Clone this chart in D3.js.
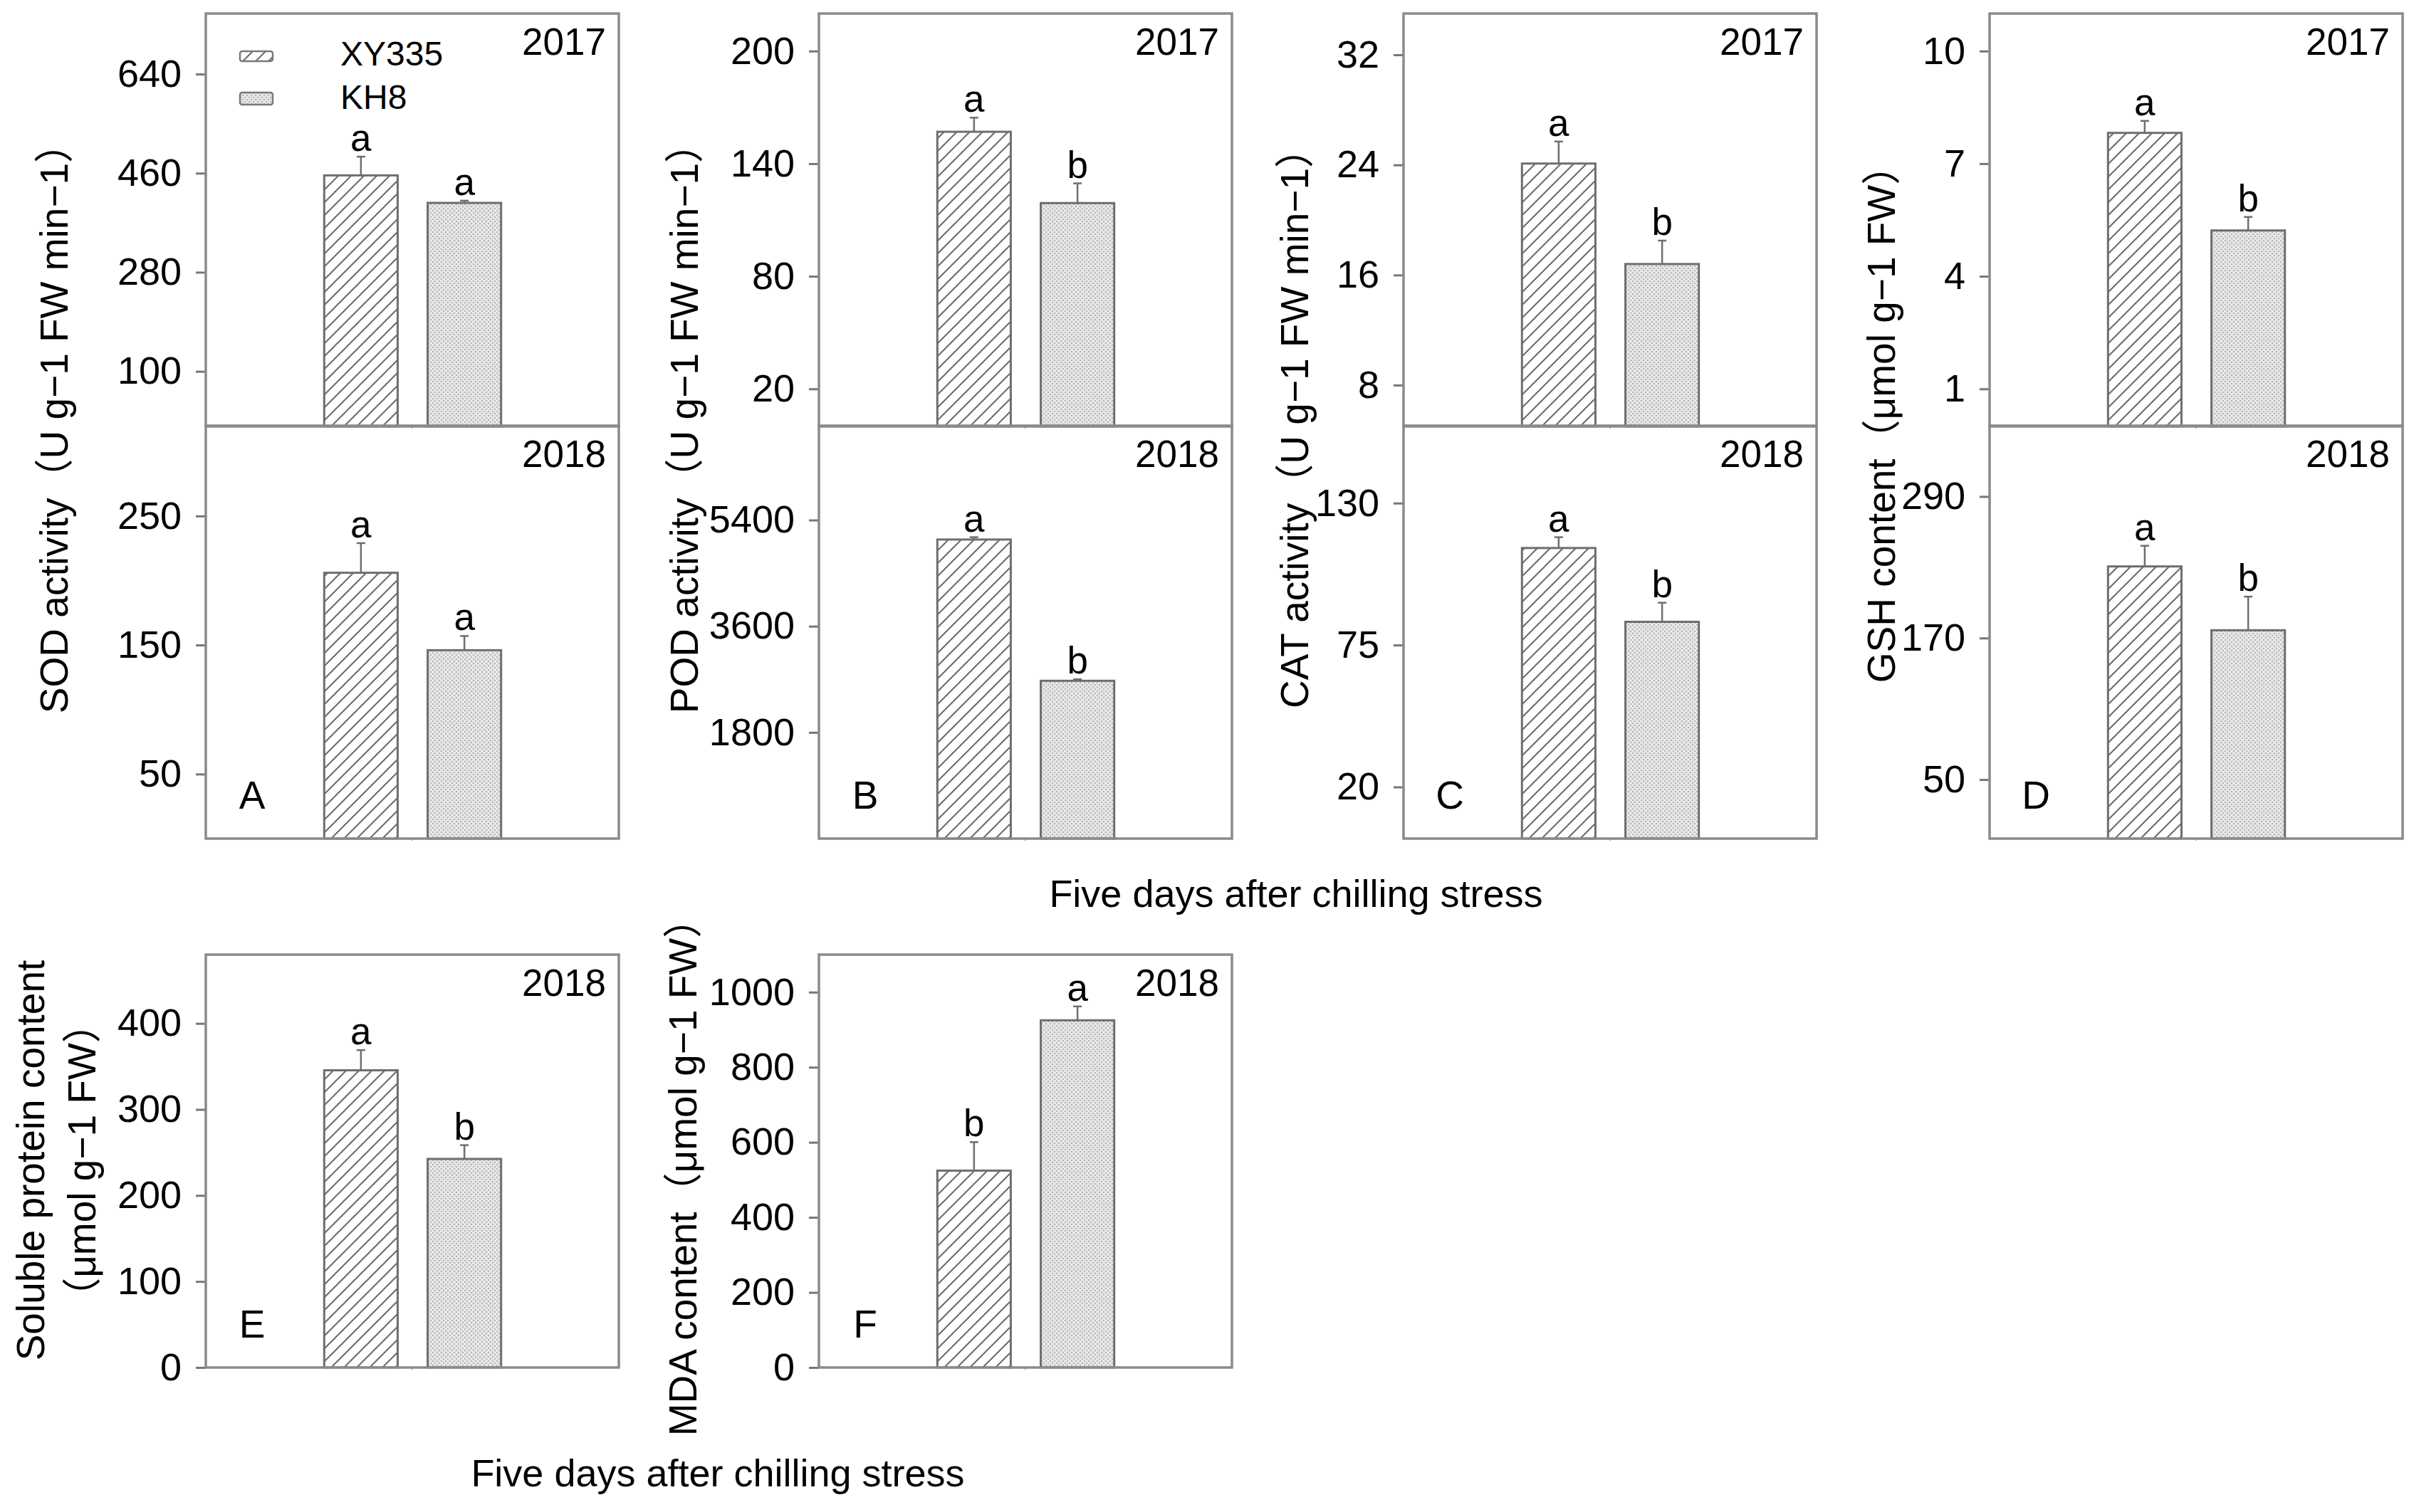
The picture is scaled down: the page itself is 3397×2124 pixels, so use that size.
<!DOCTYPE html>
<html>
<head>
<meta charset="utf-8">
<script src="https://cdn.jsdelivr.net/npm/d3@7"></script>
<style>
  body { margin: 0; background: #fff; }
  text { font-family: "Liberation Sans", Arial, "Noto Sans CJK SC", sans-serif; fill: #000; }
</style>
</head>
<body>
<div id="chart"></div>
<script>
const width = 3397;
const height = 2124;

const cultivars = ["XY335", "KH8"];

// values (mean, error)
const sod2017 = [456, 406], sod2017Err = [34, 4], sod2017Sig = ["a", "a"];
const sod2018 = [206, 146], sod2018Err = [23, 11], sod2018Sig = ["a", "a"];
const pod2017 = [157, 119], pod2017Err = [7.5, 10.5], pod2017Sig = ["a", "b"];
const pod2018 = [5070, 2675], pod2018Err = [40, 25], pod2018Sig = ["a", "b"];
const cat2017 = [24.1, 16.8], cat2017Err = [1.6, 1.7], cat2017Sig = ["a", "b"];
const cat2018 = [112.6, 84], cat2018Err = [4.2, 7.4], cat2018Sig = ["a", "b"];
const gsh2017 = [7.82, 5.22], gsh2017Err = [0.32, 0.36], gsh2017Sig = ["a", "b"];
const gsh2018 = [230.7, 176.6], gsh2018Err = [17.5, 28.5], gsh2018Sig = ["a", "b"];
const protein2018 = [345.5, 242.5], protein2018Err = [23.5, 16], protein2018Sig = ["a", "b"];
const mda2018 = [524.5, 925], mda2018Err = [76, 37], mda2018Sig = ["b", "a"];

// axis ranges and tick labels
const sodTicks2017 = [100, 280, 460, 640], sodDomain2017 = [0, 750];
const sodTicks2018 = [50, 150, 250], sodDomain2018 = [0, 320];
const podTicks2017 = [20, 80, 140, 200], podDomain2017 = [0, 220];
const podTicks2018 = [1800, 3600, 5400], podDomain2018 = [0, 7000];
const catTicks2017 = [8, 16, 24, 32], catDomain2017 = [5, 35];
const catTicks2018 = [20, 75, 130], catDomain2018 = [0, 160];
const gshTicks2017 = [1, 4, 7, 10], gshDomain2017 = [0, 11];
const gshTicks2018 = [50, 170, 290], gshDomain2018 = [0, 350];
const proteinTicks = [0, 100, 200, 300, 400], proteinDomain = [0, 480];
const mdaTicks = [0, 200, 400, 600, 800, 1000], mdaDomain = [0, 1100];

const titles = [
  "SOD activity（U g−1 FW min−1）",
  "POD activity（U g−1 FW min−1）",
  "CAT activity（U g−1 FW min−1）",
  "GSH content（μmol g−1 FW）"
];
const proteinTitle = ["Soluble protein content", "（μmol g−1 FW）"];
const mdaTitle = "MDA content（μmol g−1 FW）";
const xTitle = "Five days after chilling stress";

const panels = [
  { col: 0, row: 0, year: "2017", v: sod2017, e: sod2017Err, sig: sod2017Sig, domain: sodDomain2017, ticks: sodTicks2017, legend: true },
  { col: 0, row: 1, year: "2018", v: sod2018, e: sod2018Err, sig: sod2018Sig, domain: sodDomain2018, ticks: sodTicks2018, tag: "A" },
  { col: 1, row: 0, year: "2017", v: pod2017, e: pod2017Err, sig: pod2017Sig, domain: podDomain2017, ticks: podTicks2017 },
  { col: 1, row: 1, year: "2018", v: pod2018, e: pod2018Err, sig: pod2018Sig, domain: podDomain2018, ticks: podTicks2018, tag: "B" },
  { col: 2, row: 0, year: "2017", v: cat2017, e: cat2017Err, sig: cat2017Sig, domain: catDomain2017, ticks: catTicks2017 },
  { col: 2, row: 1, year: "2018", v: cat2018, e: cat2018Err, sig: cat2018Sig, domain: catDomain2018, ticks: catTicks2018, tag: "C" },
  { col: 3, row: 0, year: "2017", v: gsh2017, e: gsh2017Err, sig: gsh2017Sig, domain: gshDomain2017, ticks: gshTicks2017 },
  { col: 3, row: 1, year: "2018", v: gsh2018, e: gsh2018Err, sig: gsh2018Sig, domain: gshDomain2018, ticks: gshTicks2018, tag: "D" },
  { col: 0, row: 2, year: "2018", v: protein2018, e: protein2018Err, sig: protein2018Sig, domain: proteinDomain, ticks: proteinTicks, tag: "E" },
  { col: 1, row: 2, year: "2018", v: mda2018, e: mda2018Err, sig: mda2018Sig, domain: mdaDomain, ticks: mdaTicks, tag: "F" }
];

// layout
const colLeft = [289, 1150, 1971, 2794];
const pw = 580;
const rowTop = [19, 598, 1341];
const ph = 580;
const frameColor = "#8a8a8a";

const svg = d3.select("#chart")
  .append("svg")
    .attr("width", width)
    .attr("height", height)
    .style("display", "block");

// fill patterns
const defs = svg.append("defs");
const hatch = defs.append("pattern")
    .attr("id", "hatch")
    .attr("patternUnits", "userSpaceOnUse")
    .attr("width", 18)
    .attr("height", 18);
hatch.append("rect").attr("width", 18).attr("height", 18).attr("fill", "#fff");
hatch.append("path")
    .attr("d", "M0,18 L18,0 M-4.5,4.5 L4.5,-4.5 M13.5,22.5 L22.5,13.5")
    .attr("stroke", "#6a6a6a")
    .attr("stroke-width", 2);

const dots = defs.append("pattern")
    .attr("id", "dots")
    .attr("patternUnits", "userSpaceOnUse")
    .attr("width", 6)
    .attr("height", 6);
dots.append("rect").attr("width", 6).attr("height", 6).attr("fill", "#e6e6e6");
dots.append("rect").attr("width", 2).attr("height", 2).attr("fill", "#b4b4b4");
dots.append("rect").attr("x", 3).attr("y", 3).attr("width", 2).attr("height", 2).attr("fill", "#b4b4b4");

const fills = { XY335: "url(#hatch)", KH8: "url(#dots)" };

const x = d3.scaleBand()
    .domain(cultivars)
    .range([0.2867 * pw, 0.715 * pw])
    .paddingInner(0.29);

for (const p of panels) {
  const g = svg.append("g")
      .attr("transform", `translate(${colLeft[p.col]},${rowTop[p.row]})`);

  const y = d3.scaleLinear().domain(p.domain).range([ph, 0]);
  const rows = cultivars.map((c, i) => ({ c, v: p.v[i], e: p.e[i], sig: p.sig[i] }));

  g.selectAll("rect.bar")
    .data(rows)
    .join("rect")
      .attr("class", "bar")
      .attr("x", d => x(d.c))
      .attr("y", d => y(d.v))
      .attr("width", x.bandwidth())
      .attr("height", d => ph - y(d.v))
      .attr("fill", d => fills[d.c])
      .attr("stroke", "#6e6e6e")
      .attr("stroke-width", 3);

  // error bars (upper half only)
  const cx = d => x(d.c) + x.bandwidth() / 2;
  g.selectAll("line.err")
    .data(rows)
    .join("line")
      .attr("class", "err")
      .attr("x1", cx).attr("x2", cx)
      .attr("y1", d => y(d.v)).attr("y2", d => y(d.v + d.e))
      .attr("stroke", "#6e6e6e")
      .attr("stroke-width", 2.5);
  g.selectAll("line.cap")
    .data(rows)
    .join("line")
      .attr("class", "cap")
      .attr("x1", d => cx(d) - 6).attr("x2", d => cx(d) + 6)
      .attr("y1", d => y(d.v + d.e)).attr("y2", d => y(d.v + d.e))
      .attr("stroke", "#6e6e6e")
      .attr("stroke-width", 2.5);

  g.selectAll("text.sig")
    .data(rows)
    .join("text")
      .attr("class", "sig")
      .attr("x", cx)
      .attr("y", d => y(d.v + d.e) - 8)
      .attr("text-anchor", "middle")
      .style("font-size", "53px")
      .text(d => d.sig);

  const axis = g.append("g")
      .call(d3.axisLeft(y).tickValues(p.ticks).tickSize(14).tickPadding(20).tickFormat(d3.format("d")));
  axis.select(".domain").remove();
  axis.selectAll(".tick line").attr("stroke", "#777").attr("stroke-width", 3);
  axis.selectAll(".tick text")
      .attr("fill", "#000")
      .style("font-size", "54px")
      .style("font-family", "\"Liberation Sans\", Arial, sans-serif");

  // small x tick at the centre of the base
  g.append("line")
      .attr("x1", pw / 2).attr("x2", pw / 2)
      .attr("y1", ph).attr("y2", ph + 3)
      .attr("stroke", "#aaa")
      .attr("stroke-width", 2);

  g.append("rect")
      .attr("width", pw)
      .attr("height", ph)
      .attr("fill", "none")
      .attr("stroke", frameColor)
      .attr("stroke-width", 3.5);

  g.append("text")
      .attr("x", pw - 18)
      .attr("y", 58)
      .attr("text-anchor", "end")
      .style("font-size", "53px")
      .text(p.year);

  if (p.tag) {
    g.append("text")
        .attr("x", 65)
        .attr("y", ph - 42)
        .attr("text-anchor", "middle")
        .style("font-size", "55px")
        .text(p.tag);
  }

  if (p.legend) {
    const lg = g.append("g").selectAll("g")
      .data(cultivars)
      .join("g")
        .attr("transform", (d, i) => `translate(48,${i === 0 ? 53 : 111})`);
    lg.append("rect")
        .attr("width", 46)
        .attr("height", (d, i) => i === 0 ? 14 : 17)
        .attr("rx", 3)
        .attr("fill", d => fills[d])
        .attr("stroke", "#7a7a7a")
        .attr("stroke-width", 2.5);
    lg.append("text")
        .attr("x", 141)
        .attr("y", (d, i) => i === 0 ? 20 : 23)
        .style("font-size", "48px")
        .text(d => d);
  }
}

// y-axis titles
const titleX = [76, 961, 1818, 2642];
titles.forEach((t, i) => {
  svg.append("text")
      .attr("transform", `translate(${titleX[i]},${i === 3 ? 582 : 588}) rotate(-90)`)
      .attr("text-anchor", "middle")
      .attr("dominant-baseline", "central")
      .style("font-size", "55px")
      .text(t);
});

proteinTitle.forEach((t, i) => {
  svg.append("text")
      .attr("transform", `translate(${i === 0 ? 43 : 115},1630) rotate(-90)`)
      .attr("text-anchor", "middle")
      .attr("dominant-baseline", "central")
      .style("font-size", "55px")
      .text(t);
});

svg.append("text")
    .attr("transform", "translate(959,1640) rotate(-90)")
    .attr("text-anchor", "middle")
    .attr("dominant-baseline", "central")
    .style("font-size", "55px")
    .text(mdaTitle);

// x-axis titles
svg.append("text")
    .attr("x", 1820).attr("y", 1274)
    .attr("text-anchor", "middle")
    .style("font-size", "54px")
    .text(xTitle);
svg.append("text")
    .attr("x", 1008).attr("y", 2088)
    .attr("text-anchor", "middle")
    .style("font-size", "54px")
    .text(xTitle);
</script>
</body>
</html>
